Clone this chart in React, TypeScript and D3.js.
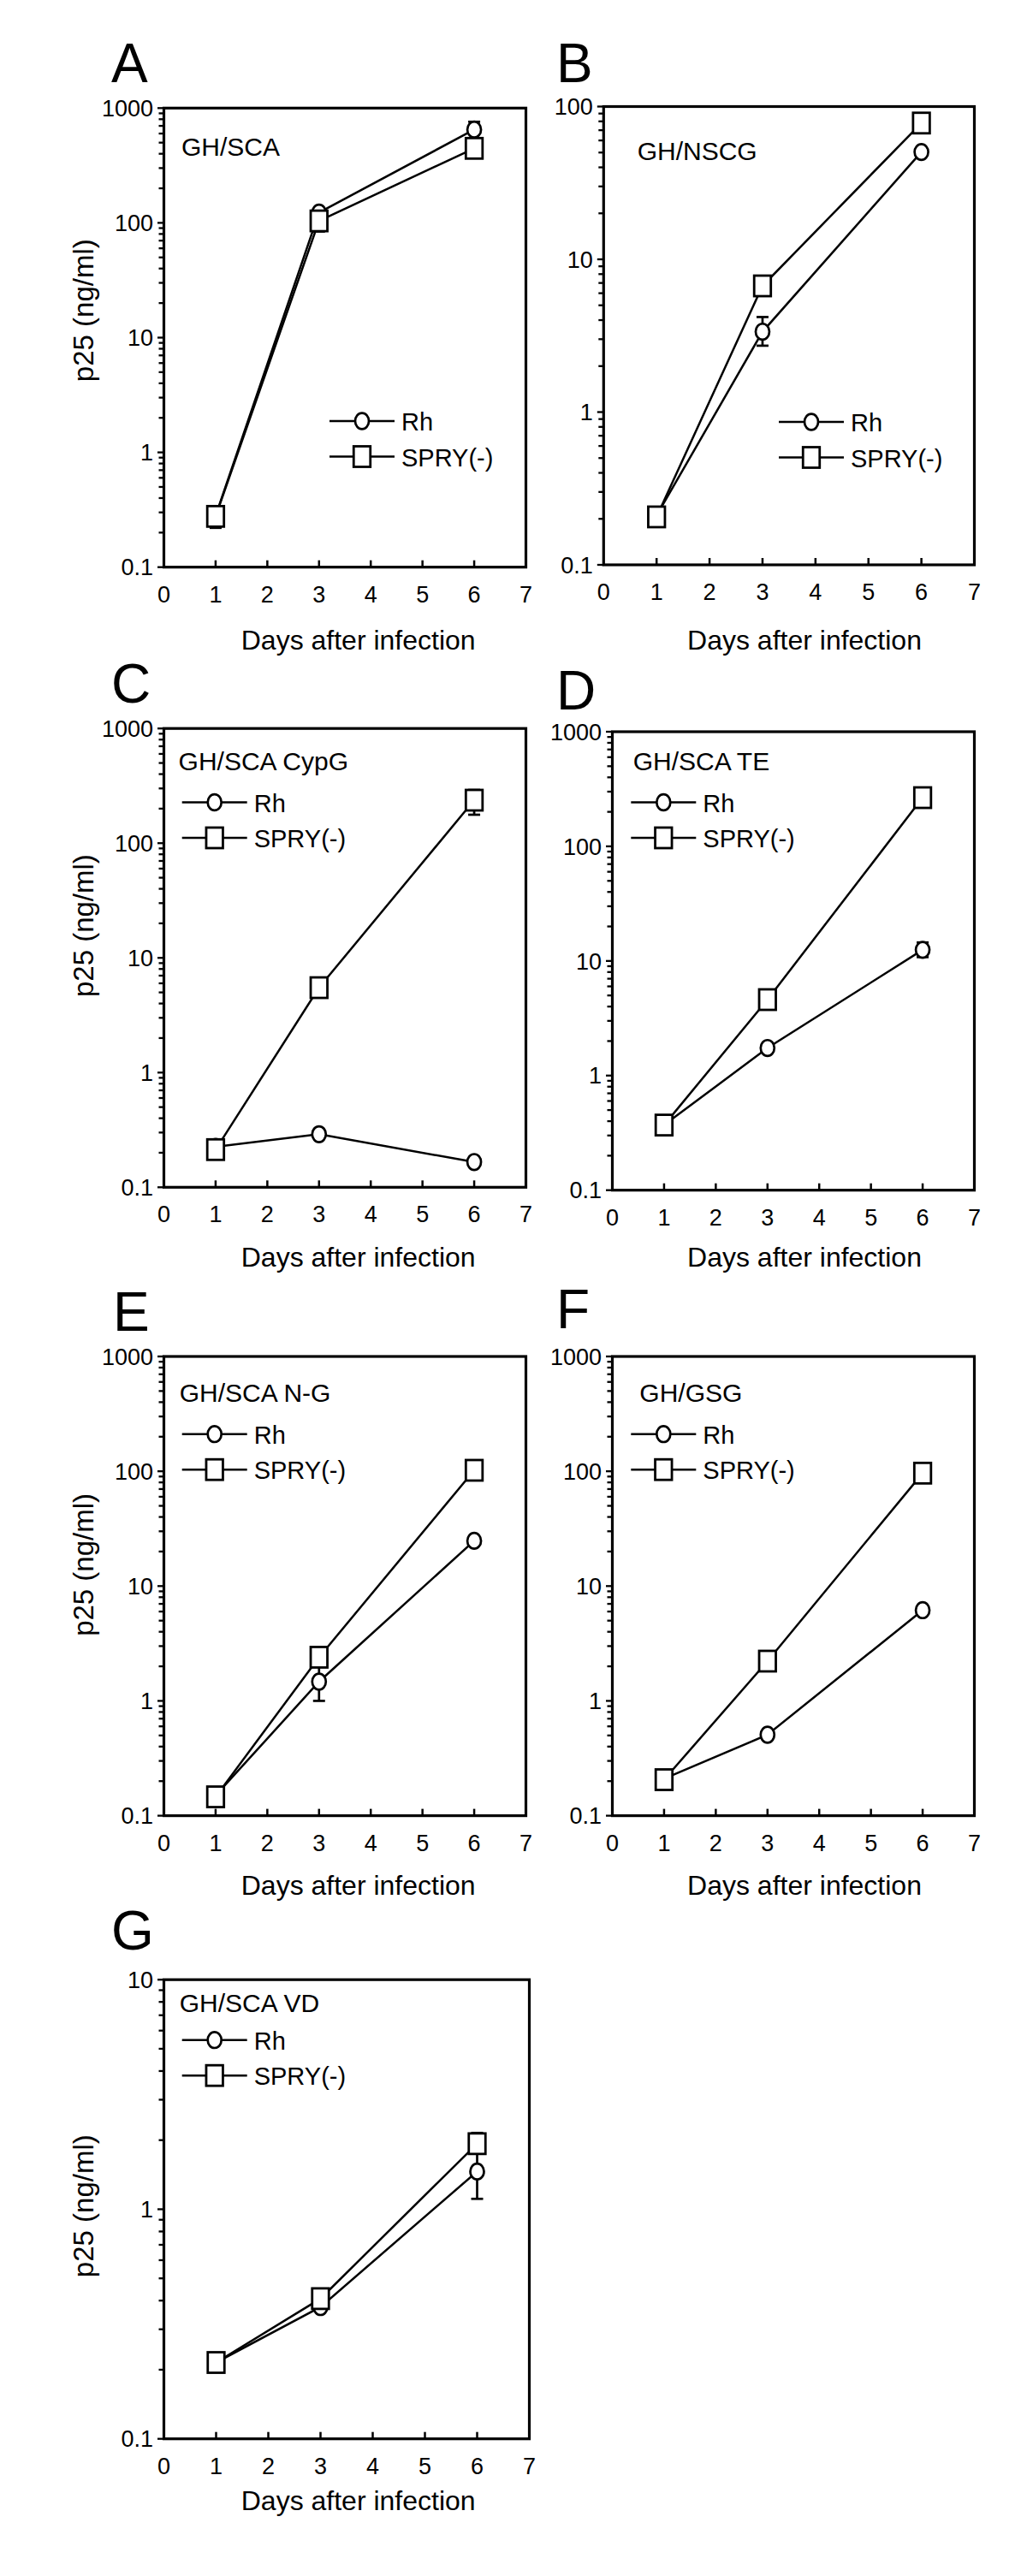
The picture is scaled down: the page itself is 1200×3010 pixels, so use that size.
import * as d3 from "d3";

const FONT = "'Liberation Sans', Arial, Helvetica, sans-serif";

const DAYS = [1, 3, 6];
const X_TICKS = [0, 1, 2, 3, 4, 5, 6, 7];
const SERIES_NAMES = ["Rh", "SPRY(-)"];
const X_TITLE = "Days after infection";
const Y_TITLE = "p25 (ng/ml)";

// values (ng/ml), days 1, 3, 6
const RH_A = [0.28, 123, 650];
const SPRY_A = [0.277, 104, 446];
const RH_B = [0.21, 3.36, 50.4];
const SPRY_B = [0.206, 6.7, 78];
const RH_C = [0.225, 0.29, 0.166];
const SPRY_C = [0.213, 5.5, 237];
const RH_D = [0.37, 1.74, 12.5];
const SPRY_D = [0.37, 4.6, 266];
const RH_E = [0.15, 1.47, 24.8];
const SPRY_E = [0.146, 2.4, 102];
const RH_F = [0.21, 0.507, 6.17];
const SPRY_F = [0.206, 2.22, 96.3];
const RH_G = [0.215, 0.375, 1.46];
const SPRY_G = [0.215, 0.408, 1.93];

// error bars [low, high] or null
type Err = [number, number] | null;
const RH_ERR_A: Err[] = [null, null, [600, 760]];
const SPRY_ERR_A: Err[] = [[0.22, 0.34], [84, 130], null];
const RH_ERR_B: Err[] = [null, [2.72, 4.19], null];
const SPRY_ERR_B: Err[] = [null, null, null];
const RH_ERR_C: Err[] = [null, null, null];
const SPRY_ERR_C: Err[] = [null, null, [177, 291]];
const RH_ERR_D: Err[] = [null, null, [10.8, 14.5]];
const SPRY_ERR_D: Err[] = [null, null, null];
const RH_ERR_E: Err[] = [null, [1.0, 2.0], null];
const SPRY_ERR_E: Err[] = [null, null, null];
const RH_ERR_F: Err[] = [null, null, null];
const SPRY_ERR_F: Err[] = [null, null, null];
const RH_ERR_G: Err[] = [null, null, [1.11, 1.88]];
const SPRY_ERR_G: Err[] = [null, null, [1.75, 2.15]];

// layout of each panel (pixels)
const PANELS = [
  { id: "A", title: "GH/SCA", yMax: 1000, rh: RH_A, spry: SPRY_A, rhErr: RH_ERR_A, spryErr: SPRY_ERR_A,
    x0: 191.5, x1: 614.5, top: 126.3, bottom: 662.7, letter: [130, 96], label: [212, 182],
    legend: [423, 492], xTitle: [418.7, 759], yTitle: 362.7 },
  { id: "B", title: "GH/NSCG", yMax: 100, rh: RH_B, spry: SPRY_B, rhErr: RH_ERR_B, spryErr: SPRY_ERR_B,
    x0: 705.3, x1: 1138.5, top: 124.5, bottom: 660, letter: [650, 96], label: [744.7, 186.6],
    legend: [948, 493], xTitle: [940, 759], yTitle: null },
  { id: "C", title: "GH/SCA CypG", yMax: 1000, rh: RH_C, spry: SPRY_C, rhErr: RH_ERR_C, spryErr: SPRY_ERR_C,
    x0: 191.5, x1: 614.5, top: 851.2, bottom: 1387.3, letter: [130, 821], label: [208.6, 899.7],
    legend: [250.7, 937.5], xTitle: [418.7, 1480], yTitle: 1081.6 },
  { id: "D", title: "GH/SCA TE", yMax: 1000, rh: RH_D, spry: SPRY_D, rhErr: RH_ERR_D, spryErr: SPRY_ERR_D,
    x0: 715.5, x1: 1138.5, top: 855, bottom: 1390.7, letter: [650, 828.5], label: [739.7, 899.7],
    legend: [775.3, 937.5], xTitle: [940, 1480], yTitle: null },
  { id: "E", title: "GH/SCA N-G", yMax: 1000, rh: RH_E, spry: SPRY_E, rhErr: RH_ERR_E, spryErr: SPRY_ERR_E,
    x0: 191.5, x1: 614.5, top: 1585, bottom: 2121.6, letter: [132, 1554.5], label: [209.7, 1638.4],
    legend: [250.7, 1675.7], xTitle: [418.7, 2213.8], yTitle: 1828.4 },
  { id: "F", title: "GH/GSG", yMax: 1000, rh: RH_F, spry: SPRY_F, rhErr: RH_ERR_F, spryErr: SPRY_ERR_F,
    x0: 715.5, x1: 1138.5, top: 1585, bottom: 2121.6, letter: [650, 1552], label: [747.3, 1638.4],
    legend: [775.3, 1675.7], xTitle: [940, 2213.8], yTitle: null },
  { id: "G", title: "GH/SCA VD", yMax: 10, rh: RH_G, spry: SPRY_G, rhErr: RH_ERR_G, spryErr: SPRY_ERR_G,
    x0: 191.5, x1: 618.5, top: 2313.2, bottom: 2849.7, letter: [130, 2278], label: [209.7, 2351],
    legend: [250.7, 2383.7], xTitle: [418.7, 2933], yTitle: 2577.7 },
];

const CIRCLE_RX = 8;
const CIRCLE_RY = 9.3;
const SQ_W = 19.5;
const SQ_H = 24;
const CAP = 7;

function Marker({ kind, cx, cy }: { kind: number; cx: number; cy: number }) {
  return kind === 0 ? (
    <ellipse cx={cx} cy={cy} rx={CIRCLE_RX} ry={CIRCLE_RY} fill="#fff" stroke="#000" strokeWidth={2.7} />
  ) : (
    <rect x={cx - SQ_W / 2} y={cy - SQ_H / 2} width={SQ_W} height={SQ_H} fill="#fff" stroke="#000" strokeWidth={2.8} />
  );
}

function Panel({ p }: { p: (typeof PANELS)[number] }) {
  const x = d3.scaleLinear().domain([0, 7]).range([p.x0, p.x1]);
  const y = d3.scaleLog().domain([0.1, p.yMax]).range([p.bottom, p.top]);
  const yTicks = y.ticks();
  const isMajor = (v: number) => Math.abs(Math.log10(v) - Math.round(Math.log10(v))) < 1e-6;
  const fmt = d3.format("~g");
  const line = d3
    .line<number>()
    .x((_, i) => x(DAYS[i]))
    .y((d) => y(d));

  const series = [
    { vals: p.rh, err: p.rhErr },
    { vals: p.spry, err: p.spryErr },
  ];
  const [lx, ly] = p.legend;

  return (
    <g fontFamily={FONT} fill="#000">
      <text x={p.letter[0]} y={p.letter[1]} fontSize={64}>
        {p.id}
      </text>

      {/* y ticks */}
      {yTicks.map((v, i) => (
        <line
          key={i}
          x1={p.x0 - (isMajor(v) ? 7.5 : 6)}
          x2={p.x0}
          y1={y(v)}
          y2={y(v)}
          stroke="#000"
          strokeWidth={2.3}
        />
      ))}
      {yTicks.filter(isMajor).map((v, i) => (
        <text key={i} x={p.x0 - 12.5} y={y(v)} dy="0.36em" textAnchor="end" fontSize={27}>
          {fmt(v)}
        </text>
      ))}

      {/* x ticks */}
      {X_TICKS.filter((t) => t > 0 && t < 7).map((t) => (
        <line key={t} x1={x(t)} x2={x(t)} y1={p.bottom} y2={p.bottom - 8} stroke="#000" strokeWidth={2.5} />
      ))}
      {X_TICKS.map((t) => (
        <text key={t} x={x(t)} y={p.bottom + 41} textAnchor="middle" fontSize={27}>
          {t}
        </text>
      ))}

      <text x={p.xTitle[0]} y={p.xTitle[1]} textAnchor="middle" fontSize={32}>
        {X_TITLE}
      </text>
      {p.yTitle !== null && (
        <text transform={`translate(109,${p.yTitle}) rotate(-90)`} textAnchor="middle" fontSize={33}>
          {Y_TITLE}
        </text>
      )}

      {/* frame */}
      <rect x={p.x0} y={p.top} width={p.x1 - p.x0} height={p.bottom - p.top} fill="none" stroke="#000" strokeWidth={3.2} />

      <text x={p.label[0]} y={p.label[1]} fontSize={30}>
        {p.title}
      </text>

      {/* series lines */}
      {series.map((s, k) => (
        <path key={k} d={line(s.vals) ?? ""} fill="none" stroke="#000" strokeWidth={2.5} />
      ))}

      {/* error bars */}
      {series.map((s, k) =>
        s.err.map((e, i) =>
          e ? (
            <g key={`${k}-${i}`} stroke="#000" strokeWidth={2.7}>
              <line x1={x(DAYS[i])} x2={x(DAYS[i])} y1={y(e[0])} y2={y(e[1])} />
              <line x1={x(DAYS[i]) - CAP} x2={x(DAYS[i]) + CAP} y1={y(e[0])} y2={y(e[0])} />
              <line x1={x(DAYS[i]) - CAP} x2={x(DAYS[i]) + CAP} y1={y(e[1])} y2={y(e[1])} />
            </g>
          ) : null
        )
      )}

      {/* markers */}
      {series.map((s, k) =>
        s.vals.map((v, i) => <Marker key={`${k}-${i}`} kind={k} cx={x(DAYS[i])} cy={y(v)} />)
      )}

      {/* legend */}
      {SERIES_NAMES.map((name, k) => {
        const yy = ly + k * 41.5;
        return (
          <g key={name}>
            <line x1={lx - 38} x2={lx + 38} y1={yy} y2={yy} stroke="#000" strokeWidth={2.5} />
            <Marker kind={k} cx={lx} cy={yy} />
            <text x={lx + 46} y={yy + 11} fontSize={29}>
              {name}
            </text>
          </g>
        );
      })}
    </g>
  );
}

export default function App() {
  return (
    <svg
      width={1200}
      height={3010}
      style={{ position: "absolute", left: 0, top: 0, background: "#fff" }}
    >
      <rect width={1200} height={3010} fill="#fff" />
      {PANELS.map((p) => (
        <Panel key={p.id} p={p} />
      ))}
    </svg>
  );
}
